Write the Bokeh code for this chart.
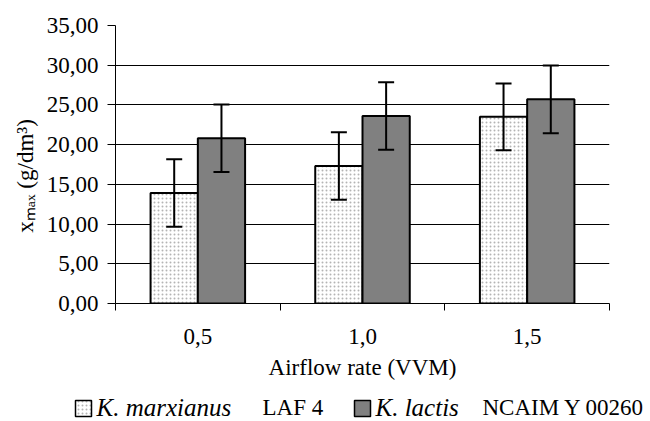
import numpy as np
from bokeh.plotting import figure
from bokeh.layouts import column
from bokeh.models import (ColumnDataSource, Range1d, FixedTicker, Whisker, TeeHead, Plot, Div)
from bokeh.core.properties import value
from bokeh.embed import file_html
from bokeh.resources import INLINE

# ---- data ----
categories = ["0,5", "1,0", "1,5"]
marx_values = [13.9, 17.3, 23.5]
marx_errors = [4.25, 4.25, 4.2]
lactis_values = [20.8, 23.6, 25.7]
lactis_errors = [4.25, 4.25, 4.25]
y_ticks = [0, 5, 10, 15, 20, 25, 30, 35]
y_tick_labels = ["0,00", "5,00", "10,00", "15,00", "20,00", "25,00", "30,00", "35,00"]
x_title = "Airflow rate (VVM)"
y_title = "x\u2098\u2090\u2093 (g/dm\u00b3)" + "\u00a0" * 4
legend_species = ["K. marxianus", "K. lactis"]
legend_strains = ["LAF 4", "NCAIM Y 00260"]

FONT = "Liberation Serif"
FS = "23px"
FS_IT = "25px"
DOT_COLOR = "#b4b4b4"
DARK = "#808080"

W, H = 650, 421
LEG_H = 30
MAIN_H = H - LEG_H

centers = np.arange(len(categories)) + 0.5
bar_w = 0.287

src_m = ColumnDataSource(dict(
    x=centers - bar_w / 2, top=marx_values,
    upper=np.array(marx_values) + np.array(marx_errors),
    lower=np.array(marx_values) - np.array(marx_errors)))
src_l = ColumnDataSource(dict(
    x=centers + bar_w / 2, top=lactis_values,
    upper=np.array(lactis_values) + np.array(lactis_errors),
    lower=np.array(lactis_values) - np.array(lactis_errors)))

p = figure(width=W, height=MAIN_H, output_backend="svg", toolbar_location=None,
           x_range=Range1d(0, len(categories)), y_range=Range1d(y_ticks[0], y_ticks[-1]),
           min_border_left=115, min_border_right=41, min_border_top=25,
           min_border_bottom=MAIN_H - 303)
p.outline_line_color = None
p.background_fill_color = "white"
p.border_fill_color = "white"

p.vbar(x="x", top="top", width=bar_w, bottom=0, source=src_m,
       fill_color="white", line_color="black", line_width=2,
       hatch_pattern="dot", hatch_color=DOT_COLOR, hatch_scale=4, hatch_weight=1)
p.vbar(x="x", top="top", width=bar_w, bottom=0, source=src_l,
       fill_color=DARK, line_color="black", line_width=2)

for src in (src_m, src_l):
    w = Whisker(source=src, base="x", upper="upper", lower="lower", level="overlay",
                line_color="black", line_width=2,
                upper_head=TeeHead(size=16, line_width=2, line_color="black"),
                lower_head=TeeHead(size=16, line_width=2, line_color="black"))
    p.add_layout(w)

# x axis
p.xaxis.ticker = FixedTicker(ticks=list(centers), minor_ticks=list(range(len(categories) + 1)))
p.xaxis.major_label_overrides = {float(c): lab for c, lab in zip(centers, categories)}
p.xaxis.major_tick_line_color = None
p.xaxis.major_tick_out = 0
p.xaxis.major_tick_in = 0
p.xaxis.minor_tick_out = 7
p.xaxis.minor_tick_in = 0
p.xaxis.minor_tick_line_color = "black"
p.xaxis.major_label_standoff = 18
p.xaxis.axis_label = x_title
p.xaxis.axis_label_standoff = 8

# y axis
p.yaxis.ticker = FixedTicker(ticks=y_ticks, minor_ticks=[])
p.yaxis.major_label_overrides = {t: lab for t, lab in zip(y_ticks, y_tick_labels)}
p.yaxis.major_tick_out = 8
p.yaxis.major_tick_in = 0
p.yaxis.minor_tick_line_color = None
p.yaxis.major_label_standoff = 9
p.yaxis.axis_label = y_title
p.yaxis.axis_label_standoff = 6

for ax in (p.xaxis, p.yaxis):
    ax.axis_line_color = "black"
    ax.axis_line_width = 1
    ax.major_label_text_font = FONT
    ax.major_label_text_font_size = FS
    ax.major_label_text_color = "black"
    ax.axis_label_text_font = FONT
    ax.axis_label_text_font_size = FS
    ax.axis_label_text_font_style = "normal"
    ax.axis_label_text_color = "black"

p.xgrid.grid_line_color = None
p.ygrid.ticker = FixedTicker(ticks=y_ticks, minor_ticks=[])
p.ygrid.grid_line_color = "black"
p.ygrid.grid_line_width = 1

# ---- legend strip ----
if "frame_align" in Plot.properties():
    lg = figure(width=W, height=LEG_H, output_backend="svg", toolbar_location=None,
                x_range=Range1d(0, W), y_range=Range1d(0, LEG_H),
                min_border=0, min_border_left=0, min_border_right=0,
                min_border_top=0, min_border_bottom=0)
    lg.frame_align = False
    p.frame_align = False
    lg.axis.visible = False
    lg.grid.visible = False
    lg.outline_line_color = None
    lg.background_fill_color = "white"
    lg.border_fill_color = "white"

    lg.quad(left=[75], right=[91], bottom=[5], top=[21], fill_color="white",
            line_color="black", line_width=1.5,
            hatch_pattern="dot", hatch_color=DOT_COLOR, hatch_scale=4, hatch_weight=1)
    lg.quad(left=[354], right=[370], bottom=[5], top=[21], fill_color=DARK,
            line_color="black", line_width=1.5)
    lg.text(x=[96, 375], y=[14, 14], text=legend_species, text_font=value(FONT),
            text_font_size=value(FS_IT), text_font_style="italic", text_color="black",
            text_align="left", text_baseline="middle")
    lg.text(x=[262, 482], y=[14, 14], text=legend_strains, text_font=value(FONT),
            text_font_size=value(FS), text_color="black",
            text_align="left", text_baseline="middle")
else:
    sq = ("display:inline-block;width:14px;height:14px;border:1.5px solid black;"
          "vertical-align:-1px;margin-right:6px;")
    dots = "background:white radial-gradient(#a0a0a0 0.6px, transparent 0.8px) 0 0/3px 3px;"
    html = (f'<div style="font-family:{FONT};font-size:{FS};white-space:nowrap;'
            f'padding-left:75px;line-height:{LEG_H}px;color:black">'
            f'<span style="{sq}{dots}"></span><i>{legend_species[0]}</i>'
            f'<span style="margin-left:17px">{legend_strains[0]}</span>'
            f'<span style="{sq}background:{DARK};margin-left:27px"></span><i>{legend_species[1]}</i>'
            f'<span style="margin-left:17px">{legend_strains[1]}</span></div>')
    lg = Div(text=html, width=W, height=LEG_H, margin=(0, 0, 0, 0))

layout = column(p, lg, spacing=0)

open("out.html", "w").write(file_html(layout, INLINE))
